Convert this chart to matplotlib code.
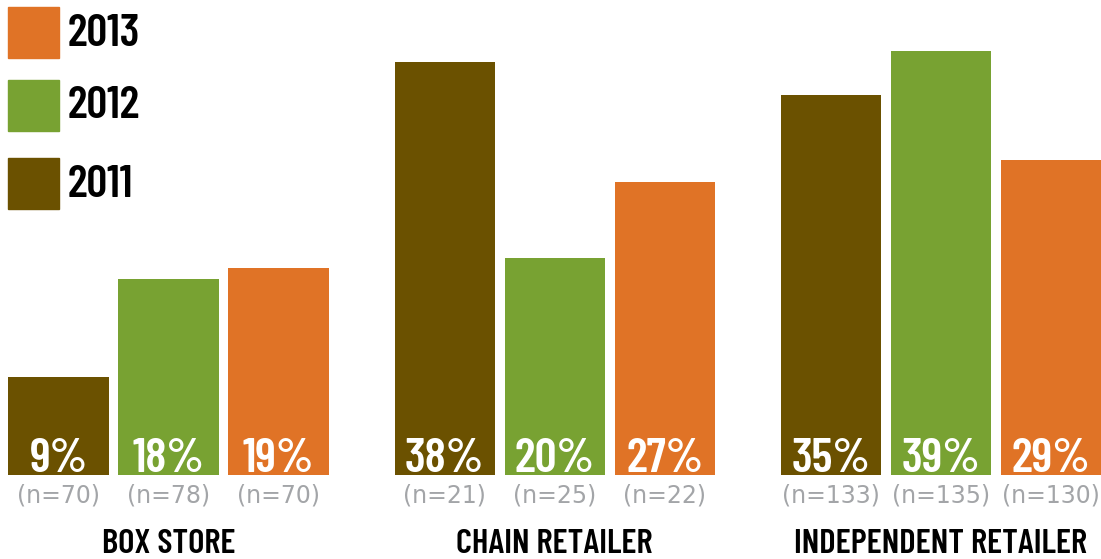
import matplotlib
matplotlib.use("Agg")
import matplotlib.pyplot as plt
from matplotlib.patches import Rectangle
import numpy as np

# data
categories = ["BOX STORE", "CHAIN RETAILER", "INDEPENDENT RETAILER"]
years = ["2011", "2012", "2013"]
values = {
    "2011": [9, 38, 35],
    "2012": [18, 20, 39],
    "2013": [19, 27, 29],
}
counts = {
    "2011": [70, 21, 133],
    "2012": [78, 25, 135],
    "2013": [70, 22, 130],
}
colors = {"2011": "#6b5100", "2012": "#78a232", "2013": "#e07326"}

narrow = ["Barlow Condensed", "Roboto Condensed", "DejaVu Sans"]
plain = ["DejaVu Sans"]

fig = plt.figure(figsize=(11.01, 5.59), dpi=100)
ax = fig.add_axes([0, 0, 1, 1])
ax.set_xlim(-0.532, 9.477)
ax.set_ylim(-7.73, 43.7)
ax.axis("off")

group_step = 3.51
width = 0.91
for i, yr in enumerate(years):
    xs = np.arange(len(categories)) * group_step + i
    ax.bar(xs, values[yr], width=width, color=colors[yr], edgecolor="none")
    for x, v, n in zip(xs, values[yr], counts[yr]):
        ax.text(x, 0.3, f"{v}%", ha="center", va="baseline", color="white",
                fontsize=35, fontweight="semibold", family=narrow)
        ax.text(x, -2.55, f"(n={n})", ha="center", va="baseline", color="#a3a5a8",
                fontsize=17, family=plain)

for g, cat in enumerate(categories):
    ax.text(g * group_step + 1, -7.15, cat, ha="center", va="baseline", color="black",
            fontsize=25, fontweight="semibold", family=narrow)

# legend, top left: (year, square top px, text baseline px)
legend_rows = [("2013", 7, 46), ("2012", 80, 118), ("2011", 158, 197)]
for yr, top, base in legend_rows:
    fig.patches.append(Rectangle((8 / 1101, 1 - (top + 51) / 559), 51 / 1101, 51 / 559,
                                 transform=fig.transFigure, color=colors[yr]))
    fig.text(68 / 1101, 1 - base / 559, yr, ha="left", va="baseline", color="black",
             fontsize=33, fontweight="semibold", family=narrow)

fig.savefig("out.png", dpi=100)
